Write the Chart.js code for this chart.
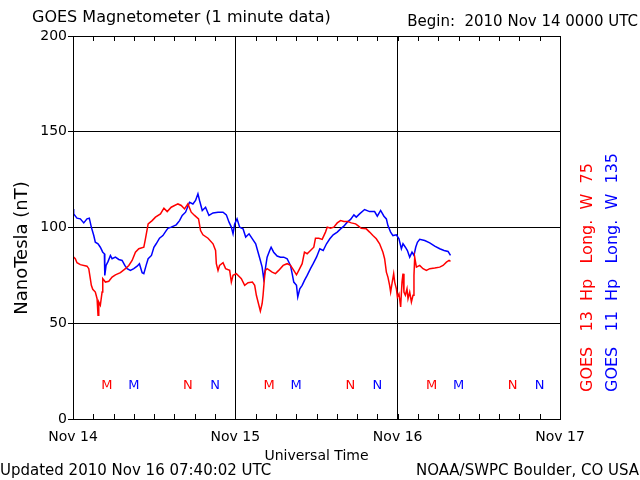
<!DOCTYPE html>
<html>
<head>
<meta charset="utf-8">
<script src="https://cdn.jsdelivr.net/npm/chart.js@4"></script>
<style>
  html, body { margin: 0; padding: 0; background: #fff; }
</style>
</head>
<body>
<canvas id="mag" width="640" height="480"></canvas>
<script>
// hours since 2010 Nov 14 0000 UTC, values in nT
const dayLabels = ['Nov 14', 'Nov 15', 'Nov 16', 'Nov 17'];

const goes13Hours = [0.00, 0.34, 0.59, 1.08, 2.07, 2.33, 2.56, 2.71, 2.92, 3.30, 3.56, 3.70, 3.81, 4.04, 4.30, 4.40,
  4.79, 5.29, 5.78, 6.27, 7.01, 7.75, 8.25, 8.74, 9.23, 9.73, 10.47, 10.71, 11.11, 11.70, 12.19, 12.93, 13.44,
  13.93, 14.52, 15.51, 16.00, 16.49, 16.99, 17.48, 17.97, 18.56, 18.86, 19.21, 19.96, 20.70, 21.08, 21.19, 21.44,
  21.67, 22.18, 22.56, 23.16, 23.41, 23.66, 24.15, 24.89, 25.38, 25.88, 26.52, 26.86, 27.11, 27.36, 27.70, 27.96,
  28.10, 28.30, 28.44, 28.70, 29.08, 29.44, 29.93, 30.41, 31.07, 31.66, 32.15, 32.64, 33.04, 33.38, 33.88, 34.22,
  34.62, 35.11, 35.60, 35.85, 36.34, 36.84, 37.33, 37.59, 38.07, 38.56, 39.07, 39.56, 40.04, 40.64, 41.14, 41.78,
  42.12, 42.62, 43.36, 43.85, 44.34, 44.84, 45.33, 45.82, 46.07, 46.33, 46.56, 46.81, 46.96, 47.16, 47.41, 47.56,
  47.81, 47.96, 48.19, 48.44, 48.64, 48.79, 48.93, 49.14, 49.38, 49.53, 49.78, 50.03, 50.27, 50.41, 50.52, 50.77,
  51.26, 51.75, 52.25, 52.74, 53.48, 54.22, 54.71, 55.21, 55.60, 55.81];
const goes13Hp = [84.9, 83.7, 81.6, 80.6, 79.8, 78.5, 73.3, 69.8, 67.7, 66.3, 62.8, 54.2, 61.1, 59.4, 66.3, 73.3,
  71.5, 71.9, 74.1, 75.3, 76.4, 78.5, 80.2, 82.8, 87.1, 88.9, 89.7, 94.1, 101.9, 103.6, 105.4, 107.1, 110.1,
  108.3, 110.6, 112.3, 111.5, 109.7, 112.3, 108.0, 106.3, 104.5, 98.4, 96.2, 94.4, 91.5, 88.0, 81.1, 77.6,
  80.2, 81.6, 78.5, 77.6, 71.5, 75.0, 75.9, 73.3, 69.8, 71.2, 71.5, 69.8, 64.6, 61.1, 56.3, 60.2,
  64.6, 73.3, 77.6, 78.5, 77.6, 76.7, 75.9, 77.6, 80.2, 81.1, 80.2, 77.6, 75.3, 77.6, 81.1, 87.1,
  86.3, 88.0, 89.7, 94.4, 94.4, 93.8, 97.6, 100.2, 99.6, 100.2, 102.4, 103.6, 103.1, 103.1, 102.4, 101.9,
  101.0, 99.6, 99.3, 97.6, 95.8, 94.1, 91.5, 87.1, 83.7, 76.7, 74.1, 69.8, 66.3, 70.7, 75.9, 71.5,
  68.0, 63.7, 65.4, 58.5, 71.5, 75.9, 66.3, 64.6, 68.0, 62.8, 66.3, 61.1, 64.6, 75.0, 84.5, 79.3,
  80.2, 78.5, 77.6, 78.5, 78.8, 79.3, 80.2, 81.9, 82.8, 82.3];

const goes11Hours = [0.00, 0.10, 0.59, 1.08, 1.59, 2.07, 2.41, 2.71, 3.07, 3.30, 3.70, 4.04, 4.40, 4.64, 4.70, 4.89,
  5.19, 5.53, 5.78, 6.27, 6.77, 7.26, 7.66, 8.00, 8.49, 8.99, 9.48, 9.82, 10.22, 10.47, 10.81, 11.11, 11.60,
  11.96, 12.30, 12.79, 13.29, 13.78, 14.03, 14.52, 15.26, 15.75, 16.15, 16.64, 17.23, 17.73, 18.12, 18.47, 18.71,
  19.11, 19.60, 20.10, 20.70, 21.44, 22.18, 22.67, 23.07, 23.41, 23.66, 23.90, 24.25, 24.64, 25.14, 25.53, 26.03,
  26.52, 27.01, 27.36, 27.70, 27.96, 28.19, 28.44, 28.70, 29.08, 29.29, 29.67, 30.18, 30.67, 31.16, 31.66, 32.15,
  32.40, 32.64, 33.04, 33.23, 33.53, 33.88, 34.22, 34.62, 35.11, 35.51, 36.00, 36.49, 36.99, 37.48, 37.97, 38.47,
  39.07, 39.56, 40.04, 40.55, 41.04, 41.53, 41.88, 42.37, 43.11, 43.85, 44.59, 44.99, 45.48, 45.97, 46.33, 46.56,
  46.96, 47.30, 47.81, 48.19, 48.55, 48.79, 49.14, 49.44, 49.78, 50.12, 50.41, 50.67, 50.92, 51.26, 52.00, 52.74,
  53.48, 54.22, 54.86, 55.45, 55.81];
const goes11Hp = [109.7, 107.1, 104.9, 104.5, 102.4, 104.5, 104.9, 100.2, 95.8, 92.3, 91.5, 89.7, 87.1, 86.3, 75.0, 80.2,
  82.3, 85.4, 83.7, 84.5, 83.3, 82.8, 80.2, 78.5, 77.6, 78.5, 79.8, 81.1, 76.4, 75.9, 80.2, 83.7, 85.4,
  89.7, 91.5, 94.4, 95.8, 98.4, 99.6, 100.2, 101.4, 103.6, 106.3, 108.0, 113.2, 112.3, 114.1, 117.6, 114.1,
  108.9, 110.6, 106.3, 107.6, 108.0, 108.0, 106.6, 102.8, 100.2, 96.7, 101.9, 104.5, 100.2, 99.3, 95.0, 96.7,
  94.1, 91.5, 87.1, 82.8, 79.3, 73.3, 78.5, 84.5, 88.0, 89.7, 87.1, 85.1, 84.5, 84.5, 83.7, 80.2,
  75.9, 71.5, 69.8, 63.7, 68.0, 69.8, 72.4, 75.0, 78.5, 81.1, 84.5, 88.9, 88.0, 91.5, 94.1, 96.2,
  97.6, 99.3, 100.7, 102.8, 104.2, 106.6, 105.4, 107.1, 109.4, 108.3, 108.3, 105.9, 108.9, 105.9, 104.5, 101.0,
  97.6, 95.8, 96.2, 94.1, 88.9, 91.5, 89.7, 88.0, 84.5, 87.1, 85.4, 89.7, 92.3, 93.8, 93.2, 92.0,
  90.3, 88.9, 88.0, 87.5, 85.4];

// local midnight (M) and noon (N) markers, hours UT
const goes13Midnight = [5, 29, 53];
const goes13Noon = [17, 41, 65];
const goes11Midnight = [9, 33, 57];
const goes11Noon = [21, 45, 69];
const markerLevel = 17.5;

const RED = '#ff0000';
const BLUE = '#0000ff';
const FONT = 'DejaVu Sans';

function toPoints(hours, vals) {
  return hours.map((h, i) => ({ x: h, y: vals[i] }));
}

const decorations = {
  id: 'decorations',
  beforeDraw(chart) {
    const ctx = chart.ctx;
    ctx.save();
    ctx.fillStyle = '#fff';
    ctx.fillRect(0, 0, chart.width, chart.height);
    ctx.restore();
  },
  afterDraw(chart) {
    const ctx = chart.ctx;
    const a = chart.chartArea;
    const xs = chart.scales.x;
    const ys = chart.scales.y;
    ctx.save();

    // frame
    ctx.strokeStyle = '#000';
    ctx.lineWidth = 1;
    ctx.strokeRect(Math.round(a.left) + 0.5, Math.round(a.top) + 0.5,
      Math.round(a.right - a.left), Math.round(a.bottom - a.top));

    // 3-hour ticks, inward, top and bottom
    ctx.beginPath();
    for (let h = 3; h < 72; h += 3) {
      const px = Math.round(xs.getPixelForValue(h)) + 0.5;
      ctx.moveTo(px, a.bottom);
      ctx.lineTo(px, a.bottom - 5);
      ctx.moveTo(px, a.top);
      ctx.lineTo(px, a.top + 5);
    }
    ctx.stroke();

    // M / N markers
    ctx.font = '13px "' + FONT + '"';
    ctx.textAlign = 'center';
    ctx.textBaseline = 'middle';
    const my = ys.getPixelForValue(markerLevel);
    const put = (list, txt, col) => {
      ctx.fillStyle = col;
      list.forEach(h => ctx.fillText(txt, xs.getPixelForValue(h), my));
    };
    put(goes13Midnight, 'M', RED);
    put(goes13Noon, 'N', RED);
    put(goes11Midnight, 'M', BLUE);
    put(goes11Noon, 'N', BLUE);

    // titles
    ctx.fillStyle = '#000';
    ctx.textAlign = 'left';
    ctx.font = '16px "' + FONT + '"';
    ctx.fillText('GOES Magnetometer (1 minute data)', 32, 18);
    ctx.textAlign = 'right';
    ctx.font = '15px "' + FONT + '"';
    ctx.fillText('Begin:  2010 Nov 14 0000 UTC', 638, 22);

    ctx.textAlign = 'center';
    ctx.font = '14px "' + FONT + '"';
    ctx.fillText('Universal Time', (a.left + a.right) / 2, 456);

    ctx.font = '15px "' + FONT + '"';
    ctx.textAlign = 'left';
    ctx.fillText('Updated 2010 Nov 16 07:40:02 UTC', 0, 471);
    ctx.textAlign = 'right';
    ctx.fillText('NOAA/SWPC Boulder, CO USA', 639, 471);

    // y title
    ctx.save();
    ctx.translate(22, 248);
    ctx.rotate(-Math.PI / 2);
    ctx.textAlign = 'center';
    ctx.font = '18px "' + FONT + '"';
    ctx.fillText('NanoTesla (nT)', 0, 0);
    ctx.restore();

    // satellite labels on the right
    ctx.font = '16px "' + FONT + '"';
    ctx.textAlign = 'left';
    ctx.save();
    ctx.translate(588, 392);
    ctx.rotate(-Math.PI / 2);
    ctx.fillStyle = RED;
    ctx.fillText('GOES   13  Hp   Long.  W  75', 0, 0);
    ctx.restore();
    ctx.save();
    ctx.translate(613, 392);
    ctx.rotate(-Math.PI / 2);
    ctx.fillStyle = BLUE;
    ctx.fillText('GOES   11  Hp   Long.  W  135', 0, 0);
    ctx.restore();

    ctx.restore();
  }
};

new Chart(document.getElementById('mag'), {
  type: 'line',
  data: {
    datasets: [
      {
        label: 'GOES 13 Hp',
        data: toPoints(goes13Hours, goes13Hp),
        borderColor: RED,
        borderWidth: 1.5,
        pointRadius: 0,
        tension: 0,
        fill: false
      },
      {
        label: 'GOES 11 Hp',
        data: toPoints(goes11Hours, goes11Hp),
        borderColor: BLUE,
        borderWidth: 1.5,
        pointRadius: 0,
        tension: 0,
        fill: false
      }
    ]
  },
  options: {
    responsive: false,
    animation: false,
    events: [],
    layout: { padding: { left: 0, top: 36, right: 80, bottom: 36 } },
    plugins: {
      legend: { display: false },
      tooltip: { enabled: false }
    },
    scales: {
      x: {
        type: 'linear',
        min: 0,
        max: 72,
        afterFit: s => { s.height = 25; },
        ticks: {
          stepSize: 24,
          padding: 10,
          color: '#000',
          font: { family: FONT, size: 14 },
          callback: v => dayLabels[v / 24]
        },
        grid: { color: '#000', drawTicks: false },
        border: { color: '#000' }
      },
      y: {
        min: 0,
        max: 200,
        afterFit: s => { s.width = 73; },
        ticks: {
          stepSize: 50,
          padding: 1,
          color: '#000',
          font: { family: FONT, size: 14 }
        },
        grid: { color: '#000', tickLength: 5 },
        border: { color: '#000' }
      }
    }
  },
  plugins: [decorations]
});
</script>
</body>
</html>
